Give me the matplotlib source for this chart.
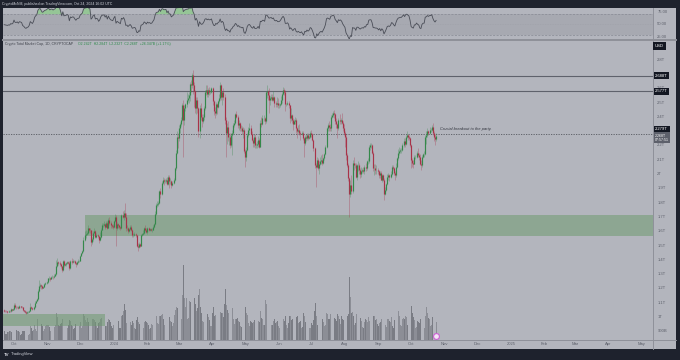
import numpy as np
import pandas as pd
import matplotlib
matplotlib.use('Agg')
from matplotlib import pyplot as plt
from matplotlib import dates as mdates
from matplotlib import transforms as mtransforms
from matplotlib.patches import Rectangle

plt.rcParams['font.family'] = ['Liberation Sans', 'DejaVu Sans']

# --- data: daily candles of TOTAL crypto market cap (billions USD) ---
start = '2023-09-22'
first_open = 1048

closes = [
    1045, 1042, 1040, 1037, 1042, 1040, 1053, 1050, 1056,  # sep 23
    1085, 1068, 1067, 1072, 1063, 1075, 1073, 1070, 1050, 1045, 1035, 1030, 1035, 1037, 1045, 1068,
    1062, 1058, 1070, 1100, 1115, 1125, 1185, 1215, 1225, 1215, 1205, 1212, 1232, 1240, 1248,  # oct
    1270, 1275, 1268, 1280, 1282, 1278, 1290, 1300, 1360, 1385, 1378, 1372, 1355, 1330, 1395,
    1365, 1370, 1375, 1385, 1380, 1340, 1390, 1385, 1395, 1393, 1380, 1370, 1385, 1390, 1395,  # nov
    1430, 1445, 1460, 1540, 1575, 1580, 1590, 1620, 1610, 1605, 1525, 1545, 1590, 1600, 1560, 1570,
    1565, 1540, 1560, 1610, 1640, 1645, 1650, 1630, 1660, 1625, 1680, 1655, 1640, 1635, 1630,  # dec
    1670, 1700, 1620, 1650, 1640, 1630, 1620, 1710, 1700, 1730, 1700, 1620, 1625, 1600, 1615, 1630,
    1610, 1570, 1575, 1580, 1570, 1500, 1490, 1510, 1500, 1570, 1580, 1590, 1620, 1610, 1595,  # jan 24
    1620, 1610, 1615, 1605, 1610, 1630, 1650, 1720, 1780, 1790, 1800, 1880, 1860, 1940, 1960,
    1950, 1950, 1960, 1930, 1980, 1950, 1950, 1920, 1940, 1960, 2040, 2150, 2260, 2250,  # feb
    2320, 2350, 2380, 2480, 2380, 2460, 2490, 2520, 2530, 2550, 2630, 2620, 2690, 2620, 2580, 2460,
    2520, 2460, 2300, 2460, 2400, 2370, 2400, 2460, 2570, 2590, 2560, 2590, 2570, 2575, 2600,  # mar
    2510, 2440, 2430, 2490, 2470, 2510, 2530, 2620, 2540, 2570, 2540, 2380, 2290, 2330, 2260,
    2260, 2200, 2270, 2290, 2340, 2360, 2420, 2400, 2340, 2360, 2320, 2320, 2300, 2310, 2160,  # apr
    2120, 2170, 2270, 2310, 2320, 2280, 2240, 2220, 2260, 2200, 2200, 2210, 2240, 2190, 2360, 2350,
    2390, 2390, 2370, 2570, 2580, 2550, 2520, 2530, 2540, 2520, 2540, 2500, 2490, 2500, 2480,  # may
    2480, 2490, 2520, 2560, 2590, 2570, 2490, 2490, 2500, 2480, 2390, 2410, 2380, 2350, 2370,
    2380, 2320, 2300, 2310, 2290, 2280, 2290, 2250, 2220, 2260, 2250, 2270, 2250, 2260, 2290,  # jun
    2280, 2240, 2180, 2060, 2050, 2100, 2040, 2070, 2090, 2100, 2080, 2110, 2140, 2190, 2320, 2340,
    2330, 2320, 2400, 2410, 2430, 2420, 2370, 2350, 2320, 2380, 2370, 2380, 2360, 2320, 2290,  # jul
    2260, 2130, 2060, 1970, 1860, 1920, 1880, 2080, 2060, 2060, 1980, 2060, 2060, 2030, 2000, 2020,
    2030, 2020, 2050, 2040, 2090, 2090, 2190, 2200, 2200, 2150, 2040, 2040, 2030, 2030, 2020,  # aug
    1990, 2010, 1960, 1990, 1960, 1860, 1890, 1930, 1980, 1990, 1980, 2000, 2050, 2040, 2010,
    1990, 2050, 2110, 2150, 2160, 2170, 2170, 2200, 2230, 2210, 2260, 2270, 2260, 2250, 2200,  # sep
    2100, 2080, 2070, 2120, 2120, 2150, 2130, 2120, 2070, 2060, 2120, 2140,
    2140, 2260, 2270, 2300, 2290, 2310, 2310, 2330, 2290, 2260, 2242, 2268,  # oct 24
]
highs = [
    1055, 1048, 1046, 1043, 1048, 1050, 1060, 1058, 1060,
    1095, 1098, 1075, 1078, 1080, 1082, 1078, 1075, 1072, 1052, 1048, 1040, 1040, 1042, 1050, 1098,
    1075, 1068, 1076, 1110, 1120, 1130, 1195, 1260, 1240, 1230, 1222, 1220, 1240, 1248, 1255,
    1275, 1285, 1280, 1286, 1292, 1290, 1298, 1310, 1400, 1415, 1390, 1390, 1380, 1360, 1400,
    1402, 1380, 1382, 1390, 1392, 1390, 1398, 1410, 1405, 1400, 1396, 1382, 1392, 1405, 1402,
    1435, 1450, 1468, 1560, 1600, 1605, 1598, 1640, 1625, 1620, 1605, 1560, 1600, 1625, 1605, 1590,
    1580, 1568, 1595, 1625, 1660, 1660, 1668, 1656, 1672, 1668, 1692, 1698, 1668, 1650, 1648,
    1675, 1720, 1712, 1662, 1660, 1645, 1635, 1720, 1740, 1745, 1800, 1725, 1640, 1632, 1625, 1645,
    1640, 1615, 1585, 1592, 1590, 1575, 1515, 1525, 1520, 1580, 1590, 1605, 1632, 1640, 1625,
    1630, 1628, 1625, 1622, 1625, 1642, 1660, 1740, 1795, 1810, 1810, 1890, 1900, 1952, 1980,
    1975, 1962, 1975, 1982, 1995, 1990, 1975, 1958, 1950, 1970, 2048, 2165, 2300, 2290,
    2345, 2365, 2400, 2500, 2520, 2480, 2500, 2575, 2560, 2570, 2640, 2660, 2705, 2725, 2640, 2590,
    2540, 2540, 2470, 2480, 2500, 2420, 2420, 2475, 2590, 2620, 2620, 2600, 2610, 2590, 2610,
    2605, 2520, 2470, 2505, 2500, 2520, 2560, 2640, 2630, 2580, 2600, 2560, 2400, 2360, 2370,
    2290, 2290, 2290, 2310, 2360, 2375, 2430, 2440, 2410, 2380, 2365, 2340, 2335, 2330, 2320,
    2175, 2190, 2290, 2330, 2360, 2340, 2300, 2250, 2280, 2280, 2220, 2230, 2265, 2250, 2375, 2400,
    2410, 2410, 2400, 2580, 2620, 2590, 2600, 2545, 2560, 2560, 2580, 2545, 2510, 2540, 2530,
    2500, 2500, 2545, 2575, 2610, 2600, 2590, 2500, 2510, 2510, 2480, 2460, 2420, 2390, 2385,
    2400, 2390, 2330, 2340, 2350, 2300, 2300, 2300, 2260, 2275, 2280, 2290, 2290, 2275, 2300,
    2310, 2290, 2245, 2190, 2080, 2120, 2110, 2090, 2120, 2130, 2140, 2120, 2150, 2200, 2330, 2360,
    2370, 2350, 2410, 2430, 2440, 2450, 2430, 2390, 2360, 2390, 2420, 2390, 2430, 2370, 2350,
    2300, 2270, 2150, 2080, 1980, 1960, 1990, 2100, 2120, 2080, 2080, 2070, 2090, 2080, 2040, 2050,
    2045, 2050, 2065, 2080, 2100, 2110, 2200, 2220, 2220, 2210, 2160, 2070, 2070, 2060, 2040,
    2025, 2020, 2020, 2000, 2000, 1975, 1910, 1940, 2000, 2010, 2000, 2020, 2060, 2060, 2050,
    2020, 2080, 2120, 2175, 2190, 2180, 2185, 2215, 2250, 2250, 2270, 2300, 2280, 2275, 2260,
    2210, 2110, 2100, 2130, 2130, 2160, 2180, 2150, 2140, 2100, 2130, 2150,
    2160, 2275, 2300, 2320, 2310, 2330, 2320, 2345, 2360, 2300, 2280, 2284,
]
lows = [
    1038, 1038, 1034, 1030, 1034, 1034, 1038, 1044, 1048,
    1052, 1062, 1058, 1060, 1055, 1060, 1066, 1062, 1042, 1038, 1028, 1022, 1025, 1030, 1034, 1044,
    1055, 1050, 1052, 1066, 1098, 1110, 1120, 1175, 1200, 1195, 1198, 1200, 1208, 1222, 1228,
    1240, 1258, 1250, 1265, 1270, 1265, 1270, 1285, 1295, 1350, 1365, 1360, 1345, 1318, 1325,
    1352, 1355, 1360, 1370, 1368, 1330, 1335, 1372, 1380, 1385, 1370, 1350, 1365, 1378, 1385,
    1390, 1425, 1438, 1455, 1530, 1550, 1570, 1582, 1596, 1590, 1500, 1510, 1530, 1585, 1550, 1555,
    1555, 1520, 1530, 1555, 1605, 1628, 1638, 1618, 1626, 1612, 1620, 1640, 1622, 1620, 1615,
    1625, 1665, 1500, 1605, 1625, 1615, 1605, 1615, 1690, 1680, 1690, 1600, 1605, 1590, 1592, 1605,
    1598, 1560, 1560, 1568, 1560, 1490, 1460, 1480, 1488, 1495, 1565, 1570, 1580, 1598, 1585,
    1580, 1600, 1600, 1598, 1592, 1605, 1625, 1640, 1710, 1770, 1775, 1790, 1830, 1850, 1930,
    1925, 1935, 1940, 1920, 1920, 1900, 1930, 1905, 1915, 1932, 1950, 2030, 2140, 2180,
    2230, 2290, 2335, 2370, 2120, 2340, 2440, 2470, 2505, 2500, 2510, 2570, 2600, 2560, 2470, 2430,
    2420, 2430, 2260, 2250, 2380, 2330, 2360, 2380, 2450, 2550, 2540, 2540, 2555, 2560, 2565,
    2480, 2410, 2390, 2410, 2420, 2460, 2500, 2520, 2520, 2480, 2520, 2350, 2120, 2210, 2230,
    2200, 2180, 2190, 2130, 2280, 2330, 2350, 2390, 2320, 2310, 2300, 2300, 2280, 2250, 2150,
    2050, 2090, 2160, 2260, 2290, 2270, 2230, 2190, 2190, 2180, 2185, 2180, 2190, 2180, 2190, 2330,
    2340, 2370, 2350, 2360, 2530, 2520, 2430, 2480, 2520, 2510, 2510, 2470, 2470, 2470, 2460,
    2460, 2470, 2480, 2500, 2550, 2550, 2440, 2475, 2480, 2460, 2360, 2370, 2360, 2310, 2350,
    2350, 2290, 2250, 2290, 2270, 2240, 2270, 2240, 2120, 2200, 2230, 2240, 2240, 2245, 2255,
    2260, 2230, 2160, 2040, 1910, 2040, 2030, 2000, 2060, 2070, 2060, 2070, 2100, 2130, 2180, 2300,
    2300, 2300, 2300, 2390, 2400, 2390, 2350, 2320, 2250, 2310, 2350, 2350, 2350, 2300, 2270,
    2190, 2100, 2050, 1950, 1700, 1840, 1860, 1870, 2030, 2040, 1970, 1960, 2020, 2000, 1970, 1980,
    2010, 2010, 2000, 2020, 2030, 2070, 2080, 2170, 2180, 2140, 2020, 1990, 2000, 2000, 2000,
    1970, 1975, 1955, 1945, 1950, 1820, 1855, 1880, 1925, 1960, 1950, 1975, 1990, 2030, 1995,
    1960, 1980, 2040, 2100, 2130, 2150, 2150, 2160, 2190, 2190, 2200, 2250, 2240, 2235, 2190,
    2040, 2050, 2040, 2070, 2105, 2110, 2120, 2100, 2060, 2030, 2050, 2110,
    2120, 2130, 2210, 2260, 2270, 2280, 2295, 2300, 2270, 2230, 2200, 2232,
]
volumes = [
    28, 18, 17, 25, 26, 27, 30, 24, 20,
    24, 40, 32, 28, 30, 26, 16, 18, 30, 28, 27, 28, 25, 16, 18, 45,
    38, 30, 32, 48, 35, 30, 70, 85, 60, 52, 45, 30, 35, 45, 48,
    50, 48, 42, 28, 30, 45, 42, 50, 90, 75, 48, 44, 52, 55, 68,
    60, 48, 35, 38, 50, 65, 62, 48, 45, 35, 40, 52, 50, 48, 46,
    60, 40, 45, 85, 80, 65, 60, 72, 58, 45, 95, 70, 68, 65, 60, 45,
    40, 55, 58, 70, 72, 62, 50, 45, 45, 60, 68, 65, 58, 45, 40,
    48, 65, 105, 70, 62, 40, 38, 80, 82, 95, 117, 98, 55, 42, 58, 60,
    50, 62, 55, 40, 35, 65, 75, 60, 52, 62, 42, 40, 60, 62, 58,
    55, 50, 35, 40, 52, 50, 58, 72, 80, 55, 52, 80, 78, 82, 85,
    70, 50, 52, 68, 80, 75, 62, 60, 45, 55, 82, 98, 110, 105,
    95, 75, 70, 150, 250, 140, 110, 140, 70, 72, 130, 125, 150, 207, 140, 120,
    95, 105, 150, 167, 110, 90, 62, 58, 95, 98, 85, 75, 65, 45, 45,
    88, 110, 80, 82, 78, 50, 48, 92, 90, 88, 75, 118, 170, 115, 100,
    90, 88, 85, 105, 70, 52, 70, 68, 72, 62, 58, 45, 42, 62, 85,
    110, 90, 82, 55, 45, 62, 58, 55, 60, 65, 42, 38, 62, 60, 95, 72,
    70, 48, 50, 133, 120, 85, 110, 72, 50, 48, 62, 70, 55, 60, 62,
    45, 40, 62, 68, 70, 62, 80, 48, 40, 55, 78, 80, 65, 70, 45,
    40, 75, 78, 55, 60, 62, 40, 42, 90, 78, 60, 58, 55, 38, 40,
    55, 50, 65, 95, 123, 80, 50, 72, 68, 62, 70, 60, 45, 50, 88, 85,
    70, 68, 85, 60, 50, 72, 70, 62, 85, 80, 70, 52, 80, 68, 65,
    75, 90, 80, 85, 207, 143, 90, 92, 80, 50, 55, 85, 70, 68, 72, 62,
    42, 40, 60, 70, 65, 58, 75, 62, 50, 55, 80, 78, 65, 68, 52,
    45, 55, 60, 70, 62, 88, 50, 42, 70, 68, 62, 58, 75, 45, 40,
    65, 70, 90, 95, 80, 48, 45, 68, 72, 70, 78, 75, 50, 45, 65,
    113, 90, 75, 65, 40, 42, 62, 60, 55, 68, 65, 45,
    40, 80, 110, 90, 72, 68, 45, 50, 75, 70, 78, 60,
]

# demand zones (start date, low, high) and drawn levels
zone_big = ('2023-12-05', 1566, 1713)
zone_small = ('2023-12-24', 939, 1021)
solid_levels = [2688, 2577]
dotted_level = 2279
note = 'Crucial breakout to the party.'
note_date, note_price = '2024-10-28', 2315

# scale labels (2.7T and 2.3T sit under the level boxes)
price_ticks = [900, 1000, 1100, 1200, 1300, 1400, 1500, 1600, 1700, 1800, 1900,
               2000, 2100, 2200, 2400, 2500, 2600, 2800]
price_labels = ['900B', '1T', '1.1T', '1.2T', '1.3T', '1.4T', '1.5T', '1.6T', '1.7T', '1.8T',
                '1.9T', '2T', '2.1T', '2.2T', '2.4T', '2.5T', '2.6T', '2.8T']
rsi_ticks = [75, 50, 25]
months = pd.date_range('2023-10-01', '2025-05-01', freq='MS')

# --- colours ---
frame = '#1e222d'
bg = '#b3b5bd'
sep = '#8e9099'
up_col = '#34884a'
dn_col = '#a83248'
axis_txt = '#5d606b'

W, H = 680, 360
def fx(px): return px / W
def fy(py): return 1 - py / H

fig = plt.figure(figsize=(6.8, 3.6), dpi=100, facecolor=frame)
fig.patches.append(Rectangle((fx(3), fy(349)), fx(676) - fx(3), fy(8.3) - fy(349),
    transform=fig.transFigure, facecolor=bg, edgecolor='none', zorder=-10))

dates = pd.date_range(start, periods=len(closes), freq='D')
x = mdates.date2num(dates)
c = np.array(closes, float)
o = np.array([first_open] + closes[:-1], float)
h = np.maximum(np.array(highs, float), np.maximum(o, c))
l = np.minimum(np.array(lows, float), np.minimum(o, c))
up = c >= o

x0 = mdates.date2num(pd.Timestamp('2023-10-01'))
xlim = (x0 - 10.14, x0 + 588.9)

# RSI pane
ax_r = fig.add_axes([fx(3), fy(39.3), fx(653) - fx(3), fy(8.3) - fy(39.3)])
ax_r.set_axis_off()
avg_g, avg_l = 12.0, 12.0
rsi = []
for a, b in zip(np.r_[first_open, c[:-1]], c):
    ch = b - a
    avg_g = (avg_g * 13 + max(ch, 0)) / 14
    avg_l = (avg_l * 13 + max(-ch, 0)) / 14
    rsi.append(100 - 100 / (1 + avg_g / avg_l))
rsi = np.array(rsi)
ax_r.axhspan(30, 70, color='#a7a9b1', lw=0)
ax_r.axhline(70, color='#868993', lw=0.5, ls=(0, (3, 2)))
ax_r.axhline(30, color='#868993', lw=0.5, ls=(0, (3, 2)))
ax_r.axhline(50, color='#9a9ca4', lw=0.4, ls=(0, (1, 2)))
ax_r.fill_between(x, rsi, 70, where=rsi > 70, interpolate=True, color='#95c596', lw=0)
ax_r.plot(x, rsi, color='#4a4d57', lw=0.6)
ax_r.set_xlim(xlim)
ax_r.set_ylim(20.6, 82)

# main pane: volume underneath, price on top
rect = [fx(3), fy(339.5), fx(653) - fx(3), fy(41.3) - fy(339.5)]
axv = fig.add_axes(rect)
axv.set_axis_off()
axv.bar(x, volumes, width=0.75, lw=0,
        color=np.where(up, '#8c8e96', '#7a7c84'))
axv.set_xlim(xlim)
axv.set_ylim(0, 994)

ax = fig.add_axes(rect)
ax.set_axis_off()
ax.set_xlim(xlim)
ax.set_ylim(842.7, 2928)

for z in (zone_big, zone_small):
    zx = mdates.date2num(pd.Timestamp(z[0]))
    if z is zone_big:
        x_a, x_b = zx, xlim[1]
    else:
        x_a, x_b = xlim[0], zx
    ax.add_patch(Rectangle((x_a, z[1]), x_b - x_a, z[2] - z[1],
                           facecolor='#6e9a70', alpha=0.55, lw=0, zorder=1))

for lv in solid_levels:
    ax.axhline(lv, color='#5f626c', lw=0.8, zorder=2)
ax.axhline(dotted_level, color='#55585f', lw=0.6, ls=(0, (1.5, 1.5)), zorder=2)

cols = np.where(up, up_col, dn_col)
wk = ax.vlines(x, l, h, colors=cols, lw=0.5, alpha=0.45, zorder=3)
bd = ax.vlines(x, np.minimum(o, c), np.maximum(o, c), colors=cols, lw=0.85, zorder=4)
bd.set_capstyle('butt')

ax.text(mdates.date2num(pd.Timestamp(note_date)), note_price, note, fontsize=2.9,
        style='italic', color='#30333c', ha='left', va='center')

# event marker at the last bar
blend = mtransforms.blended_transform_factory(ax.transData, ax.transAxes)
ax.plot([x[-1]], [0.012], transform=blend, marker='o', ms=4.2, mfc='#f4e6f6',
        mec='#cf5fd6', mew=0.8, clip_on=False, zorder=6)

# price scale
yb = mtransforms.blended_transform_factory(ax.transAxes, ax.transData)
for v, s in zip(price_ticks, price_labels):
    ax.text(1.0066, v, s, transform=yb, fontsize=3, color=axis_txt,
            ha='left', va='center', clip_on=False)
box = dict(boxstyle='square,pad=0.35', fc='#131722', ec='none')
for v, s in [(2688, '2.688T'), (2577, '2.577T'), (2312, '2.279T')]:
    ax.text(1.0035, v, s, transform=yb, fontsize=3, color='white', ha='left',
            va='center', bbox=box, clip_on=False, zorder=10)
ax.text(1.0035, 2255, '2.268T\n07:57:51', transform=yb, fontsize=2.6, color='white',
        ha='left', va='center', linespacing=1.0, clip_on=False, zorder=10,
        bbox=dict(boxstyle='square,pad=0.3', fc='#5d606b', ec='none'))
fig.text(fx(655), fy(46), 'USD', fontsize=3, color='white', ha='left', va='center',
         bbox=dict(boxstyle='square,pad=0.4', fc='#131722', ec='none'))

yr = mtransforms.blended_transform_factory(ax_r.transAxes, ax_r.transData)
for v in rsi_ticks:
    ax_r.text(1.0066, v, '%.2f' % v, transform=yr, fontsize=3, color=axis_txt,
              ha='left', va='center', clip_on=False)

# time scale
for m in months:
    lab = str(m.year) if m.month == 1 else m.strftime('%b')
    ax.text(mdates.date2num(m), -0.0165, lab, transform=blend, fontsize=3,
            color=axis_txt, ha='center', va='center', clip_on=False)

# frame lines
fig.add_artist(plt.Line2D([fx(653), fx(653)], [fy(8.3), fy(349)], color=sep, lw=0.7))
fig.add_artist(plt.Line2D([fx(3), fx(676)], [fy(339.5), fy(339.5)], color=sep, lw=0.7))
fig.add_artist(plt.Line2D([fx(3), fx(676)], [fy(40.3), fy(40.3)], color=sep, lw=1.4))

# header texts
fig.text(fx(2), fy(4.2), 'CryptoMcNM, published on TradingView.com, Oct 24, 2024 16:02 UTC',
         fontsize=2.5, color='#d1d4dc', ha='left', va='center')
fig.text(fx(4.7), fy(44.5), 'Crypto Total Market Cap, 1D, CRYPTOCAP', fontsize=2.5,
         color='#40434c', ha='left', va='center')
fig.text(fx(78.5), fy(44.5), 'O2.242T  H2.284T  L2.232T  C2.268T  +26.347B (+1.17%)',
         fontsize=2.5, color='#2f8a4c', ha='left', va='center')
fig.text(fx(4), fy(354.5), 'TV', fontsize=3.2, color='#d1d4dc', fontweight='bold',
         ha='left', va='center')
fig.text(fx(11), fy(354.5), 'TradingView', fontsize=3, color='#d1d4dc',
         ha='left', va='center')

plt.savefig('out.png', dpi=100, facecolor=frame)
